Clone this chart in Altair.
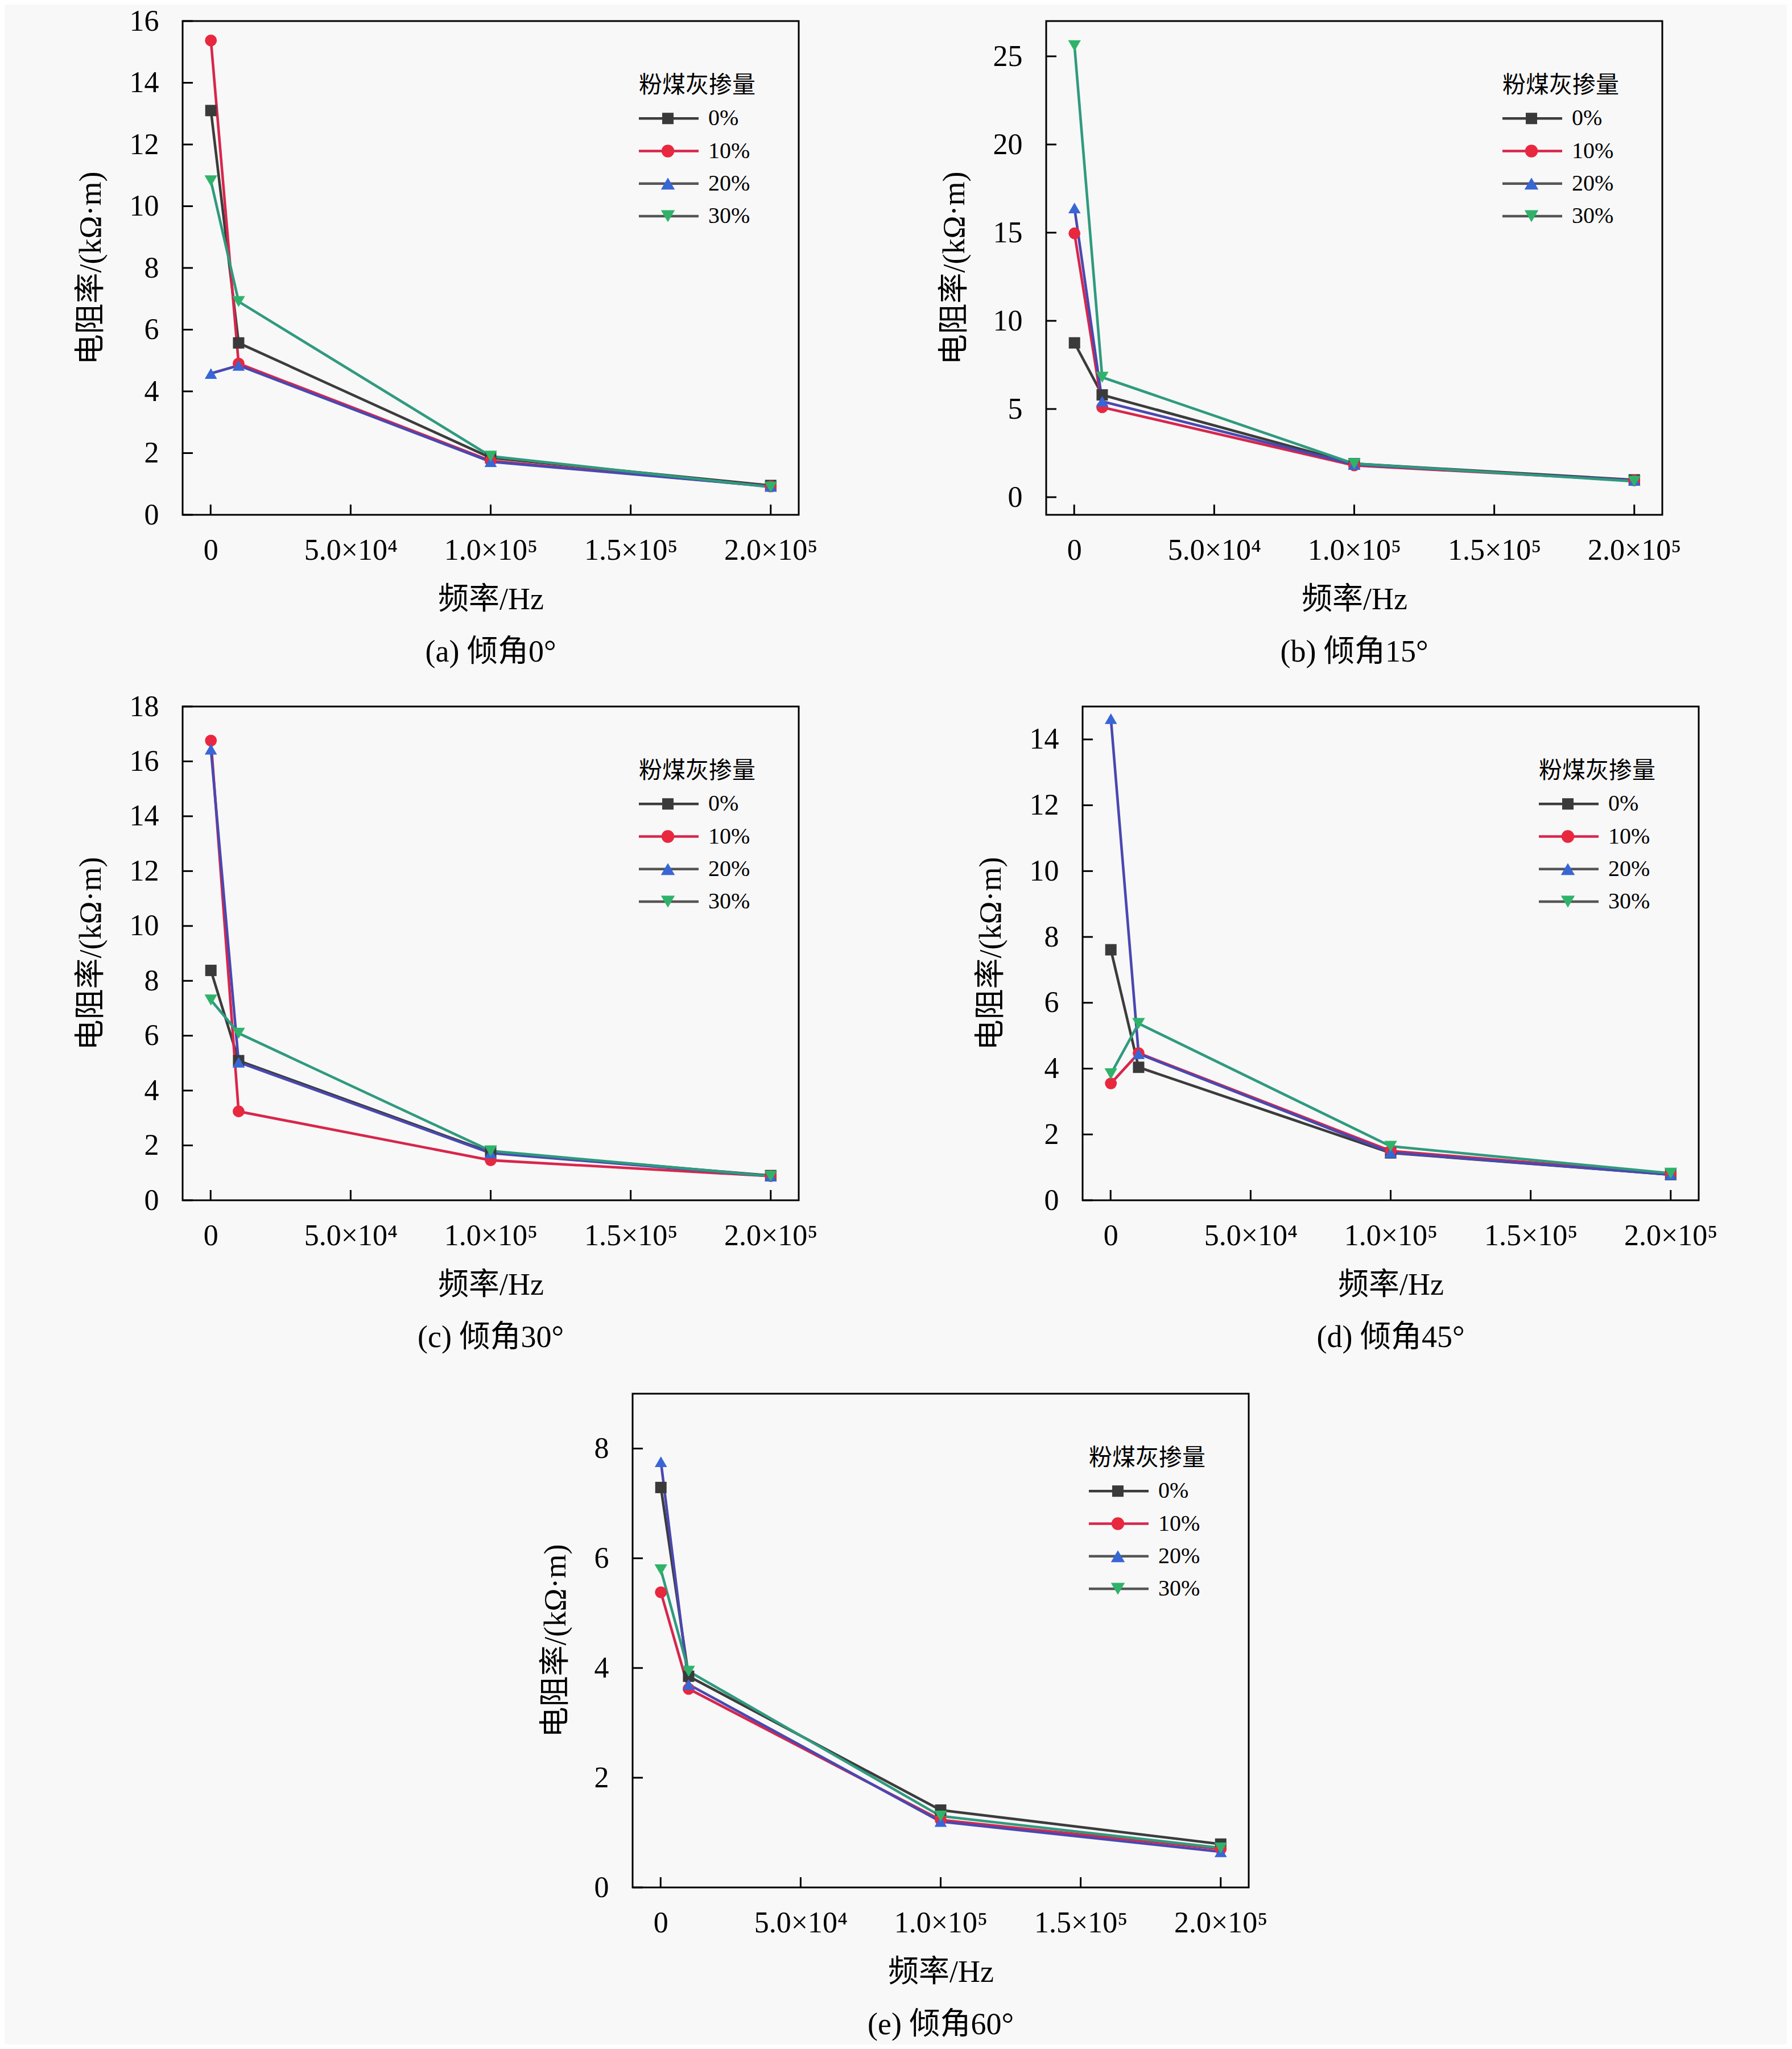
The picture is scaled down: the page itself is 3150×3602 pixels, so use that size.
import altair as alt
import pandas as pd

FONT = "Liberation Serif, Noto Sans CJK SC"

series = ["0%", "10%", "20%", "30%"]
legend_title = "粉煤灰掺量"
freq = [100, 10000, 100000, 200000]

line_colors = ["#3c3c3c", "#d8264c", "#4a48b0", "#2f9a7e"]
marker_colors = ["#3a3a3a", "#e8283e", "#3866d6", "#2fb36a"]
legend_line_colors = ["#3c3c3c", "#d8264c", "#555555", "#555555"]
shapes = ["square", "circle", "triangle-up", "triangle-down"]
marker_sizes = [400, 500, 600, 600]

xtick_values = [0, 50000, 100000, 150000, 200000]
xtick_labels = ["0", "5.0×10⁴", "1.0×10⁵", "1.5×10⁵", "2.0×10⁵"]
x_domain = [-10000, 210000]

# (a) 倾角0°
a_0 = [13.1, 5.57, 1.85, 0.95]
a_10 = [15.37, 4.9, 1.75, 0.92]
a_20 = [4.58, 4.84, 1.72, 0.92]
a_30 = [10.82, 6.91, 1.9, 0.9]
a_ydom = [0, 16]
a_yticks = [0, 2, 4, 6, 8, 10, 12, 14, 16]

# (b) 倾角15°
b_0 = [8.75, 5.8, 1.9, 0.98]
b_10 = [14.96, 5.1, 1.8, 0.95]
b_20 = [16.4, 5.43, 1.85, 0.95]
b_30 = [25.6, 6.8, 1.9, 0.9]
b_ydom = [-1, 27]
b_yticks = [0, 5, 10, 15, 20, 25]

# (c) 倾角30°
c_0 = [8.38, 5.09, 1.75, 0.9]
c_10 = [16.76, 3.24, 1.46, 0.88]
c_20 = [16.44, 5.03, 1.72, 0.88]
c_30 = [7.3, 6.09, 1.8, 0.88]
c_ydom = [0, 18]
c_yticks = [0, 2, 4, 6, 8, 10, 12, 14, 16, 18]

# (d) 倾角45°
d_0 = [7.61, 4.04, 1.44, 0.78]
d_10 = [3.55, 4.47, 1.5, 0.8]
d_20 = [14.63, 4.45, 1.45, 0.78]
d_30 = [3.84, 5.37, 1.64, 0.82]
d_ydom = [0, 15]
d_yticks = [0, 2, 4, 6, 8, 10, 12, 14]

# (e) 倾角60°
e_0 = [7.29, 3.85, 1.41, 0.79]
e_10 = [5.38, 3.62, 1.23, 0.7]
e_20 = [7.76, 3.70, 1.2, 0.65]
e_30 = [5.79, 3.94, 1.3, 0.72]
e_ydom = [0, 9]
e_yticks = [0, 2, 4, 6, 8]

titles = ["(a) 倾角0°", "(b) 倾角15°", "(c) 倾角30°", "(d) 倾角45°", "(e) 倾角60°"]

W, H = 1083, 868
TICK = 18

label_expr = "''"
for v, l in reversed(list(zip(xtick_values, xtick_labels))):
    label_expr = f"datum.value == {v} ? '{l}' : {label_expr}"


def panel(title, series_vals, ydom, yticks):
    rows = []
    for s, vals in zip(series, series_vals):
        for f, v in zip(freq, vals):
            rows.append({"series": s, "freq": f, "value": v})
    df = pd.DataFrame(rows)
    xs = alt.Scale(domain=x_domain, nice=False, zero=False)
    ys = alt.Scale(domain=ydom, nice=False, zero=False)
    xaxis = alt.Axis(values=xtick_values, labelExpr=label_expr, title="频率/Hz",
                     ticks=False, domain=False, grid=False, labelFlush=False,
                     labelOverlap=False, labelPadding=37, titlePadding=34,
                     labelFontSize=52, titleFontSize=54)
    yaxis = alt.Axis(values=yticks, format="d", title="电阻率/(kΩ·m)", ticks=False,
                     domain=False, grid=False, labelPadding=42, titlePadding=40,
                     labelFontSize=52, titleFontSize=54)
    lines = alt.Chart(df).mark_line(strokeWidth=4.6).encode(
        x=alt.X("freq:Q", scale=xs, axis=xaxis),
        y=alt.Y("value:Q", scale=ys, axis=yaxis),
        color=alt.Color("series:N", scale=alt.Scale(domain=series, range=line_colors), legend=None),
        order="freq:Q",
    )
    pts = alt.Chart(df).mark_point(filled=True, opacity=1).encode(
        x=alt.X("freq:Q", scale=xs),
        y=alt.Y("value:Q", scale=ys),
        shape=alt.Shape("series:N", scale=alt.Scale(domain=series, range=shapes), legend=None),
        fill=alt.Fill("series:N", scale=alt.Scale(domain=series, range=marker_colors), legend=None),
        size=alt.Size("series:N", scale=alt.Scale(domain=series, range=marker_sizes), legend=None),
    )
    ytk = alt.Chart(pd.DataFrame({"value": yticks})).mark_rule(color="black", strokeWidth=3).encode(
        y=alt.Y("value:Q", scale=ys), x=alt.value(0), x2=alt.value(TICK))
    xtk = alt.Chart(pd.DataFrame({"freq": xtick_values})).mark_rule(color="black", strokeWidth=3).encode(
        x=alt.X("freq:Q", scale=xs), y=alt.value(H), y2=alt.value(H - TICK))
    main = alt.layer(lines, pts, ytk, xtk)

    leg_df = pd.DataFrame({"row": series, "lcolor": legend_line_colors,
                           "mcolor": marker_colors, "shape": shapes, "msize": marker_sizes})
    lx = W - 281
    ly = alt.Scale(type="point", domain=[legend_title] + series, range=[114, 343], padding=0)
    leg_rule = alt.Chart(leg_df).mark_rule(strokeWidth=4.5).encode(
        x=alt.value(lx), x2=alt.value(lx + 105),
        y=alt.Y("row:N", scale=ly, axis=None),
        stroke=alt.Stroke("lcolor:N", scale=None))
    leg_pt = alt.Chart(leg_df).mark_point(filled=True, opacity=1).encode(
        x=alt.value(lx + 51), y=alt.Y("row:N", scale=ly, axis=None),
        shape=alt.Shape("shape:N", scale=None), fill=alt.Fill("mcolor:N", scale=None),
        size=alt.Size("msize:Q", scale=None))
    leg_txt = alt.Chart(leg_df).mark_text(align="left", baseline="middle", fontSize=40,
                                          font=FONT, color="black").encode(
        x=alt.value(lx + 122), y=alt.Y("row:N", scale=ly, axis=None), text="row:N")
    leg_ttl = alt.Chart(pd.DataFrame({"row": [legend_title]})).mark_text(
        align="left", baseline="middle", fontSize=41, font=FONT, color="black").encode(
        x=alt.value(lx), y=alt.Y("row:N", scale=ly, axis=None), text="row:N")
    leg = alt.layer(leg_rule, leg_pt, leg_txt, leg_ttl)

    return alt.layer(main, leg).resolve_scale(
        y="independent", fill="independent", shape="independent", size="independent"
    ).properties(
        width=W, height=H,
        title=alt.TitleParams(title, orient="bottom", fontSize=54, font=FONT,
                              fontWeight="normal", color="black", offset=39),
    )


pa = panel(titles[0], [a_0, a_10, a_20, a_30], a_ydom, a_yticks)
pb = panel(titles[1], [b_0, b_10, b_20, b_30], b_ydom, b_yticks)
pc = panel(titles[2], [c_0, c_10, c_20, c_30], c_ydom, c_yticks)
pd_ = panel(titles[3], [d_0, d_10, d_20, d_30], d_ydom, d_yticks)
pe = panel(titles[4], [e_0, e_10, e_20, e_30], e_ydom, e_yticks)

spacer = alt.Chart(pd.DataFrame({"freq": [0]})).mark_point(opacity=0).encode(
    x=alt.value(0), y=alt.value(0)
).properties(width=627, height=10, view=alt.ViewBackground(strokeOpacity=0, fillOpacity=0))

row1 = alt.hconcat(pa, pb, spacing=210)
row2 = alt.hconcat(pc, pd_, spacing=274)
rows12 = alt.vconcat(row1, row2, spacing=38)
row3 = alt.hconcat(spacer, pe, spacing=0)

chart = alt.vconcat(rows12, row3, spacing=66).properties(
    padding={"left": 123, "top": 1, "right": 120, "bottom": 5},
    background="#f8f8f8",
).configure_view(
    stroke="black", strokeWidth=3, fill="#f8f8f8"
).configure_axis(
    labelFont=FONT, titleFont=FONT, labelColor="black", titleColor="black",
    titleFontWeight="normal",
).configure_title(font=FONT, fontWeight="normal", color="black")

chart.save("out.html", embed_options={"renderer": "svg", "actions": False})
